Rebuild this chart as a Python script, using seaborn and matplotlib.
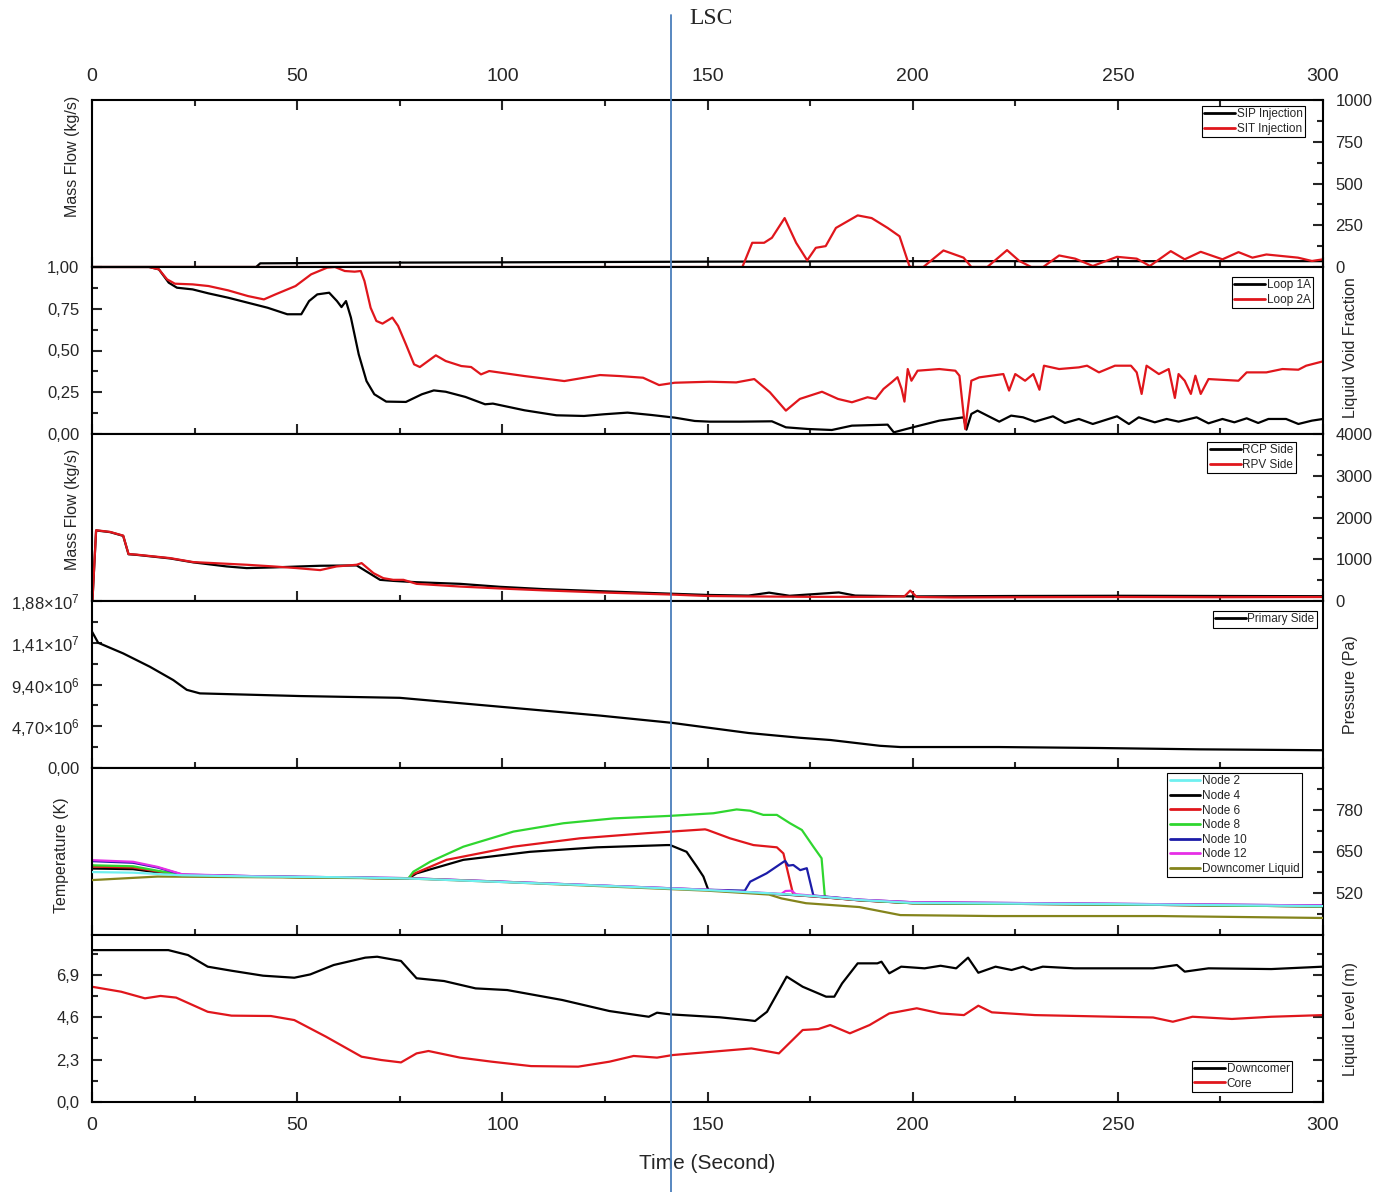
import matplotlib
matplotlib.use("Agg")
import matplotlib.pyplot as plt
from matplotlib.lines import Line2D
from matplotlib.ticker import MultipleLocator, FixedLocator, FixedFormatter, FuncFormatter
import seaborn as sns

# ---------------------------------------------------------------- data
LSC_TIME = 141.0

# panel 1: safety injection mass flow (kg/s)
sip_t = [0, 40, 41, 70, 100, 150, 200, 250, 300]
sip_v = [0, 0, 22, 26, 28, 32, 35, 35, 35]
sit_t = [0, 158.5, 160.9, 163.8, 165.7, 168.8, 171.6, 174.3, 176.4, 178.8, 181.3, 186.6,
         190.0, 193.9, 196.8, 199.2, 199.7, 202.6, 207.5, 212.4, 214.3, 218.2, 223.0, 226.0,
         228.9, 231.8, 235.7, 239.6, 243.9, 249.8, 254.6, 257.8, 262.9, 266.3, 270.2, 275.5,
         279.4, 282.8, 286.2, 293.9, 297.3, 300]
sit_v = [0, 0, 145, 145, 175, 293, 145, 40, 115, 125, 234, 309,
         293, 234, 184, 6, 0, 0, 99, 56, 0, 0, 101, 36,
         0, 0, 69, 50, 6, 61, 50, 6, 95, 46, 91, 46,
         89, 56, 75, 56, 36, 46]

# panel 2: liquid void fraction
loop1_t = [0, 13.9, 16.3, 18.7, 20.7, 24.5, 28.4, 33.2, 38.0, 42.8, 47.6, 51.0, 52.9, 54.9,
           57.8, 59.7, 60.8, 61.9, 63.1, 65.0, 66.9, 68.8, 71.7, 76.5, 80.4, 83.3, 86.2, 91.0,
           95.8, 97.7, 105.4, 113.2, 119.9, 124.7, 130.5, 136.3, 142.0, 146.9, 150.5, 158.0,
           165.7, 169.1, 174.5, 180.3, 185.2, 193.9, 195.4, 199.7, 206.5, 212.4, 213.1, 214.3,
           215.8, 218.2, 221.1, 224.0, 226.9, 229.8, 234.2, 237.1, 240.5, 243.9, 249.8, 252.7,
           255.1, 259.0, 261.9, 264.8, 269.2, 272.1, 275.5, 278.4, 281.4, 284.2, 286.7, 291.0,
           294.0, 297.3, 300]
loop1_v = [1.0, 1.0, 0.986, 0.906, 0.876, 0.866, 0.842, 0.816, 0.786, 0.756, 0.717, 0.717,
           0.796, 0.836, 0.846, 0.796, 0.760, 0.796, 0.697, 0.477, 0.317, 0.238, 0.194, 0.192,
           0.238, 0.261, 0.253, 0.222, 0.178, 0.182, 0.142, 0.112, 0.108, 0.118, 0.128, 0.114,
           0.098, 0.078, 0.074, 0.074, 0.076, 0.04, 0.03, 0.024, 0.05, 0.056, 0.01, 0.038, 0.08,
           0.10, 0.026, 0.12, 0.14, 0.11, 0.074, 0.11, 0.10, 0.074, 0.106, 0.066, 0.09, 0.06,
           0.106, 0.06, 0.10, 0.07, 0.09, 0.074, 0.10, 0.064, 0.09, 0.07, 0.094, 0.066, 0.09,
           0.09, 0.06, 0.08, 0.09]
loop2_t = [0, 13.9, 16.3, 18.3, 20.2, 24.5, 28.4, 33.2, 38.0, 41.9, 44.7, 49.6, 53.4, 57.3,
           59.2, 61.6, 64.0, 65.5, 66.4, 67.9, 69.3, 70.8, 73.2, 74.6, 76.5, 78.5, 79.9, 83.8,
           86.2, 90.0, 92.4, 94.8, 96.8, 105.4, 115.1, 123.8, 128.6, 134.3, 138.2, 142.0, 150.5,
           157.0, 161.4, 165.2, 169.1, 172.5, 177.9, 181.8, 185.2, 189.0, 191.0, 192.9, 194.9,
           196.3, 197.3, 198.0, 198.8, 199.7, 201.2, 206.5, 210.4, 211.4, 212.8, 214.3, 216.2,
           222.1, 223.5, 225.0, 227.4, 229.4, 230.9, 232.0, 235.7, 240.5, 242.5, 245.4, 249.3,
           253.2, 254.6, 255.8, 257.0, 260.0, 262.4, 263.9, 264.8, 266.3, 267.8, 268.9, 270.2,
           272.1, 279.4, 281.4, 286.2, 290.1, 294.0, 295.9, 300]
loop2_v = [1.0, 1.0, 0.986, 0.926, 0.90, 0.896, 0.886, 0.86, 0.826, 0.806, 0.836, 0.886,
           0.956, 0.996, 1.0, 0.976, 0.972, 0.976, 0.916, 0.756, 0.677, 0.661, 0.697, 0.647,
           0.537, 0.417, 0.401, 0.471, 0.437, 0.407, 0.401, 0.357, 0.377, 0.347, 0.317, 0.353,
           0.347, 0.337, 0.293, 0.307, 0.313, 0.309, 0.329, 0.25, 0.14, 0.21, 0.253, 0.21, 0.19,
           0.22, 0.21, 0.27, 0.31, 0.34, 0.27, 0.194, 0.389, 0.319, 0.379, 0.389, 0.379, 0.349,
           0.03, 0.319, 0.339, 0.359, 0.26, 0.359, 0.319, 0.359, 0.265, 0.409, 0.389, 0.399,
           0.409, 0.369, 0.409, 0.409, 0.369, 0.24, 0.409, 0.359, 0.389, 0.216, 0.359, 0.319,
           0.24, 0.349, 0.24, 0.329, 0.319, 0.369, 0.369, 0.389, 0.385, 0.409, 0.435]

# panel 3: break mass flow (kg/s)
rcp_t = [0, 0.1, 1.0, 4.4, 7.6, 8.9, 10.9, 19.0, 24.7, 32.8, 37.7, 44.2, 50.7, 55.6, 64.5,
         70.2, 73.4, 79.1, 89.7, 99.4, 110, 123.8, 141, 150, 160, 165, 170, 182, 186, 200, 225,
         250, 275, 300]
rcp_v = [0, 0, 1690, 1650, 1560, 1120, 1105, 1020, 925, 828, 788, 804, 828, 844, 852, 507,
         482, 450, 411, 340, 285, 235, 175, 145, 130, 200, 125, 205, 130, 110, 120, 125, 120, 115]
rpv_t = [0, 0.1, 1.0, 4.4, 7.6, 8.9, 10.9, 19.0, 24.7, 32.8, 37.7, 44.2, 49.9, 55.6, 59.6,
         64.5, 65.7, 68.6, 71.0, 73.4, 75.9, 79.1, 89.7, 99.4, 110, 123.8, 141, 150, 160, 175,
         190, 198, 199.4, 201, 210, 225, 250, 275, 300]
rpv_v = [0, 0, 1695, 1655, 1566, 1125, 1110, 1028, 932, 892, 868, 828, 788, 740, 828, 868,
         908, 667, 547, 507, 507, 411, 346, 300, 255, 205, 155, 120, 110, 100, 100, 110, 250,
         95, 85, 90, 95, 90, 95]

# panel 4: primary pressure (Pa)
prs_t = [0, 1.5, 7.6, 14.1, 19.8, 23.1, 26.3, 50.7, 75, 99.4, 123.8, 141, 160, 172.6, 180,
         192, 197, 221, 245.7, 270, 300]
prs_v = [1.535e7, 1.41e7, 1.29e7, 1.14e7, 9.9e6, 8.8e6, 8.4e6, 8.1e6, 7.9e6, 6.9e6, 5.9e6,
         5.1e6, 3.94e6, 3.4e6, 3.15e6, 2.5e6, 2.36e6, 2.36e6, 2.25e6, 2.1e6, 2.0e6]

# panel 5: core temperatures (K)
n2_t = [0, 10, 16, 22, 40, 60, 77, 100, 125, 150, 165, 176, 187, 200, 250, 300]
n2_v = [586, 584, 580, 576, 572, 570, 566, 555, 543, 530, 520, 511, 499, 490, 486, 480]
n4_t = [0, 10, 16, 22, 40, 77.1, 79.1, 90.5, 106.7, 123.0, 140.1, 140.9, 144.9, 147.4, 149.0,
        150.2, 165, 176, 187, 200, 250, 300]
n4_v = [597, 595, 585, 576, 572, 566, 582, 624, 649, 663, 670, 670, 649, 603, 572, 530, 519,
        510, 498, 489, 485, 479]
n6_t = [0, 10, 16, 22, 40, 77.1, 78.3, 86.4, 102.7, 118.9, 135.2, 149.4, 150.0, 155.5, 161.2,
        166.9, 168.5, 170.9, 176, 187, 200, 250, 300]
n6_v = [603, 600, 588, 577, 572, 566, 580, 624, 665, 691, 707, 719, 717, 691, 670, 663, 644,
        515, 510, 498, 489, 485, 479]
n8_t = [0, 10, 16, 22, 40, 77.1, 78.3, 82.4, 90.5, 102.7, 114.9, 127.1, 140.9, 151.4, 157.1,
        160.4, 163.6, 166.9, 170.1, 173.0, 175.8, 177.8, 178.6, 187, 200, 250, 300]
n8_v = [607, 604, 590, 577, 572, 566, 587, 618, 665, 712, 738, 753, 761, 769, 781, 777, 764,
        764, 738, 717, 665, 629, 509, 499, 489, 485, 479]
n10_t = [0, 10, 16, 22, 40, 77, 100, 150, 159.1, 160.4, 164.4, 168.9, 169.7, 170.9, 172.6,
         174.2, 175.8, 187, 200, 250, 300]
n10_v = [620, 615, 600, 578, 573, 567, 556, 531, 528, 556, 582, 621, 606, 608, 592, 598, 513,
         500, 492, 487, 482]
n12_t = [0, 10, 16, 22, 40, 77, 100, 150, 168, 169, 170.5, 171.5, 176, 187, 200, 250, 300]
n12_v = [623, 618, 602, 579, 573, 567, 556, 531, 518, 527, 528, 517, 512, 500, 492, 487, 482]
dcl_t = [0, 16, 40, 77, 100, 150, 165, 168, 174, 187, 197, 220, 260, 300]
dcl_v = [561, 572, 570, 566, 555, 528, 516, 504, 489, 477, 452, 449, 449, 443]

# panel 6: collapsed liquid level (m)
dc_t = [0, 18.6, 23.4, 28.2, 34.0, 41.7, 49.3, 53.2, 58.9, 66.6, 69.5, 75.3, 79.1, 85.8, 93.5,
        101.2, 114.6, 126.1, 133.8, 135.7, 137.7, 140.9, 153.0, 159.7, 161.6, 164.5, 169.3,
        173.2, 178.9, 180.9, 182.8, 186.6, 191.4, 192.4, 194.3, 197.2, 202.9, 206.8, 210.6,
        213.5, 216.0, 220.2, 224.1, 226.9, 228.9, 231.7, 239.4, 249.0, 258.6, 264.4, 266.3,
        272.1, 287.4, 300]
dc_v = [8.25, 8.25, 7.98, 7.35, 7.13, 6.86, 6.75, 6.93, 7.44, 7.84, 7.89, 7.66, 6.72, 6.57,
        6.17, 6.08, 5.54, 4.94, 4.69, 4.63, 4.85, 4.76, 4.60, 4.45, 4.40, 4.90, 6.81, 6.26,
        5.72, 5.72, 6.44, 7.53, 7.53, 7.62, 6.99, 7.35, 7.26, 7.40, 7.26, 7.84, 7.02, 7.35,
        7.17, 7.35, 7.17, 7.35, 7.26, 7.26, 7.26, 7.44, 7.08, 7.26, 7.22, 7.35]
core_t = [0, 7.1, 12.9, 16.7, 20.5, 28.2, 34.0, 43.6, 49.3, 57.0, 65.7, 70.5, 75.3, 79.1, 82.0,
          89.7, 97.4, 107.0, 118.5, 126.1, 132.0, 137.7, 141.5, 151.1, 160.7, 167.4, 173.2,
          177.0, 179.9, 184.7, 189.5, 194.3, 201.0, 206.8, 212.5, 216.0, 219.3, 229.8, 249.0,
          258.6, 263.4, 268.2, 277.8, 287.4, 300]
core_v = [6.26, 5.99, 5.63, 5.76, 5.67, 4.90, 4.69, 4.67, 4.45, 3.55, 2.46, 2.28, 2.15, 2.64,
          2.77, 2.41, 2.19, 1.95, 1.92, 2.19, 2.50, 2.41, 2.55, 2.73, 2.91, 2.64, 3.91, 3.96,
          4.18, 3.73, 4.18, 4.81, 5.09, 4.81, 4.72, 5.23, 4.87, 4.72, 4.63, 4.59, 4.36, 4.63,
          4.51, 4.63, 4.72]

pressure_ticks = [0, 4.70e6, 9.40e6, 1.41e7, 1.88e7]
pressure_labels = ["0,00", "4,70\u00d710$^{6}$", "9,40\u00d710$^{6}$",
                   "1,41\u00d710$^{7}$", "1,88\u00d710$^{7}$"]

# ---------------------------------------------------------------- style
sns.set_style("white")
plt.rcParams.update({
    "axes.linewidth": 1.5,
    "axes.edgecolor": "black",
    "xtick.direction": "in",
    "ytick.direction": "in",
    "xtick.major.size": 7, "xtick.minor.size": 4,
    "ytick.major.size": 7, "ytick.minor.size": 4,
    "xtick.major.width": 1.5, "xtick.minor.width": 1.5,
    "ytick.major.width": 1.5, "ytick.minor.width": 1.5,
    "xtick.major.pad": 11, "ytick.major.pad": 9,
    "xtick.labelsize": 14, "ytick.labelsize": 12,
    "axes.labelsize": 11.5,
    "mathtext.fontset": "custom",
    "mathtext.rm": "Liberation Sans",
    "mathtext.it": "Liberation Sans:italic",
})
plt.rcParams["font.family"] = ["Liberation Sans", "DejaVu Sans"]

RED = "#e0161c"
LW = 1.6

fig = plt.figure(figsize=(13.79, 11.92), dpi=100)
axes = fig.subplots(6, 1, sharex=True, gridspec_kw=dict(hspace=0))
fig.subplots_adjust(left=92 / 1379, right=1323 / 1379, top=1 - 100 / 1192, bottom=1 - 1102 / 1192)


def line(ax, t, v, color, label, z=2):
    sns.lineplot(x=t, y=v, ax=ax, color=color, linewidth=LW, label=label,
                 estimator=None, sort=False, zorder=z)


def legend(ax, loc, anchor, **kw):
    leg = ax.legend(loc=loc, bbox_to_anchor=anchor, fontsize=8.5, frameon=True, fancybox=False,
                    edgecolor="black", framealpha=1, borderpad=0.2, labelspacing=0.22,
                    handlelength=2.6, handletextpad=0.15, borderaxespad=0, **kw)
    leg.get_frame().set_linewidth(0.8)
    for h in leg.get_lines():
        h.set_linewidth(2)
    return leg


def yaxis_side(ax, side, ticks_both=False):
    if side == "right":
        ax.tick_params(axis="y", which="both", left=False, labelleft=False,
                       right=True, labelright=True)
    else:
        ax.tick_params(axis="y", which="both", left=True, labelleft=True,
                       right=ticks_both, labelright=False)


comma2 = FuncFormatter(lambda v, p: f"{v:.2f}".replace(".", ","))
comma1 = FuncFormatter(lambda v, p: f"{v:.1f}".replace(".", ","))

# panel 1
ax = axes[0]
line(ax, sip_t, sip_v, "black", "SIP Injection")
line(ax, sit_t, sit_v, RED, "SIT Injection")
ax.set_ylim(0, 1000)
ax.yaxis.set_major_locator(MultipleLocator(250))
ax.yaxis.set_minor_locator(MultipleLocator(125))
yaxis_side(ax, "right")
ax.set_ylabel("Mass Flow (kg/s)")
ax.yaxis.set_label_coords(-0.0095, 0.66)
legend(ax, "upper right", (0.9854, 0.964))

# panel 2
ax = axes[1]
line(ax, loop1_t, loop1_v, "black", "Loop 1A")
line(ax, loop2_t, loop2_v, RED, "Loop 2A")
ax.set_ylim(0, 1.0)
ax.yaxis.set_major_locator(MultipleLocator(0.25))
ax.yaxis.set_minor_locator(MultipleLocator(0.125))
ax.yaxis.set_major_formatter(comma2)
yaxis_side(ax, "left")
ax.yaxis.set_label_position("right")
ax.set_ylabel("Liquid Void Fraction")
ax.yaxis.set_label_coords(1.0162, 0.515)
legend(ax, "upper right", (0.9919, 0.94))

# panel 3
ax = axes[2]
line(ax, rcp_t, rcp_v, "black", "RCP Side")
line(ax, rpv_t, rpv_v, RED, "RPV Side")
ax.set_ylim(0, 4000)
ax.yaxis.set_major_locator(MultipleLocator(1000))
ax.yaxis.set_minor_locator(MultipleLocator(500))
yaxis_side(ax, "right")
ax.set_ylabel("Mass Flow (kg/s)")
ax.yaxis.set_label_coords(-0.0095, 0.55)
legend(ax, "upper right", (0.978, 0.952))

# panel 4
ax = axes[3]
line(ax, prs_t, prs_v, "black", "Primary Side")
ax.set_ylim(0, 1.88e7)
ax.yaxis.set_major_locator(FixedLocator(pressure_ticks))
ax.yaxis.set_minor_locator(FixedLocator([(a + b) / 2 for a, b in zip(pressure_ticks[:-1], pressure_ticks[1:])]))
ax.yaxis.set_major_formatter(FixedFormatter(pressure_labels))
yaxis_side(ax, "left")
ax.yaxis.set_label_position("right")
ax.set_ylabel("Pressure (Pa)")
ax.yaxis.set_label_coords(1.0162, 0.5)
legend(ax, "upper right", (0.995, 0.94))

# panel 5
ax = axes[4]
line(ax, n2_t, n2_v, "#6ff0f0", "Node 2", z=3.2)
line(ax, n4_t, n4_v, "black", "Node 4")
line(ax, n6_t, n6_v, RED, "Node 6")
line(ax, n8_t, n8_v, "#2fd62f", "Node 8")
line(ax, n10_t, n10_v, "#1c1ca8", "Node 10")
line(ax, n12_t, n12_v, "#e62ee6", "Node 12")
line(ax, dcl_t, dcl_v, "#84841c", "Downcomer Liquid", z=3.1)
ax.set_ylim(390, 910)
ax.yaxis.set_major_locator(FixedLocator([520, 650, 780]))
ax.yaxis.set_minor_locator(FixedLocator([455, 585, 715, 845]))
yaxis_side(ax, "right")
ax.set_ylabel("Temperature (K)")
ax.yaxis.set_label_coords(-0.0185, 0.48)
legend(ax, "upper right", (0.983, 0.97))

# panel 6
ax = axes[5]
line(ax, dc_t, dc_v, "black", "Downcomer")
line(ax, core_t, core_v, RED, "Core")
ax.set_ylim(0, 9.07)
ax.yaxis.set_major_locator(FixedLocator([0, 2.3, 4.6, 6.9]))
ax.yaxis.set_minor_locator(FixedLocator([1.15, 3.45, 5.75, 8.05]))
ax.yaxis.set_major_formatter(comma1)
yaxis_side(ax, "left", ticks_both=True)
ax.yaxis.set_label_position("right")
ax.set_ylabel("Liquid Level (m)")
ax.yaxis.set_label_coords(1.0162, 0.497)
legend(ax, "lower right", (0.975, 0.06))

# shared x axis
axes[0].set_xlim(0, 300)
axes[0].xaxis.set_major_locator(MultipleLocator(50))
axes[0].xaxis.set_minor_locator(MultipleLocator(25))
for i, ax in enumerate(axes):
    ax.tick_params(axis="x", which="both", bottom=True, top=(i == 0),
                   labelbottom=(i == len(axes) - 1), labeltop=(i == 0))
    ax.set_xlabel("")
axes[-1].set_xlabel("Time (Second)", fontsize=15, labelpad=14)

# LSC marker spanning the whole figure
x_disp = axes[0].transData.transform((LSC_TIME, 0))[0]
x_fig = fig.transFigure.inverted().transform((x_disp, 0))[0]
fig.add_artist(Line2D([x_fig, x_fig], [0, 1 - 15 / 1192], transform=fig.transFigure,
                      color="#4a7ebb", linewidth=1.3, zorder=10))
fig.text(x_fig + 40 / 1379, 1 - 18 / 1192, "LSC", ha="center", va="center", fontsize=17,
         family=["Liberation Serif", "DejaVu Serif"])

fig.savefig("out.png", dpi=100)
plt.close(fig)
